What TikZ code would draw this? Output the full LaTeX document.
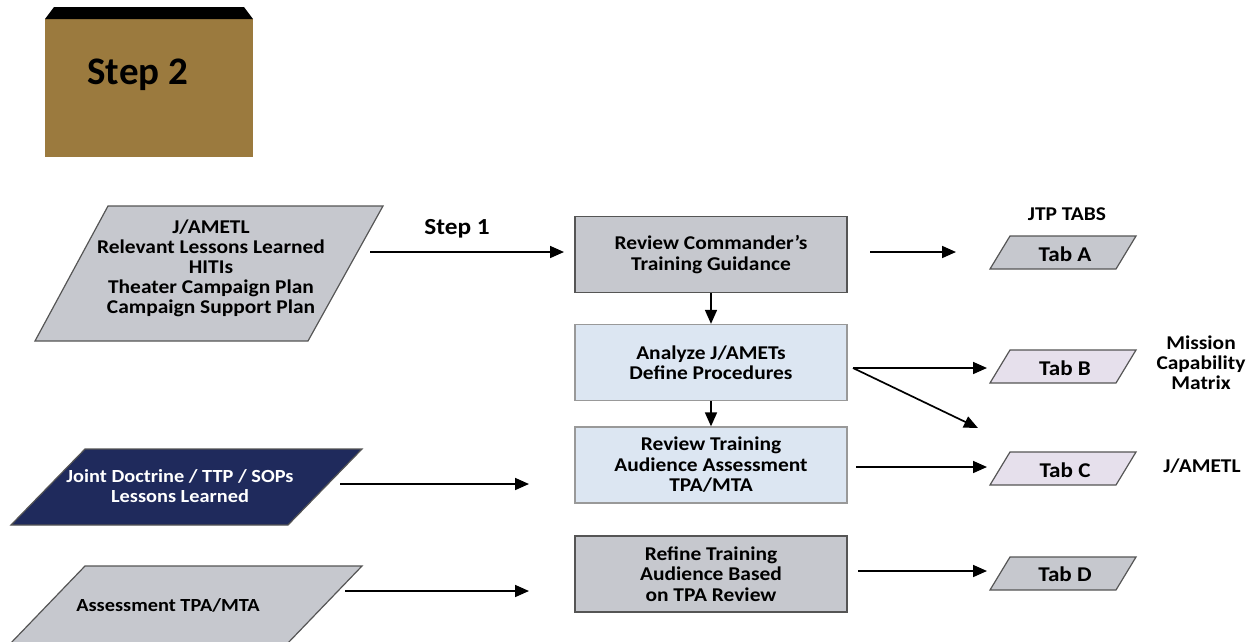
\documentclass[tikz,border=0pt]{standalone}
\usepackage{fontspec}
\setmainfont{Carlito}
\newfontfamily\labelfont{Carlito}[FakeStretch=1.1]
\usetikzlibrary{arrows.meta}
\definecolor{stepbrown}{HTML}{9B7A3E}
\definecolor{boxgray}{HTML}{C6C8CE}
\definecolor{boxblue}{HTML}{DCE6F2}
\definecolor{tablav}{HTML}{E6E0EC}
\definecolor{navy}{HTML}{1F2A5C}
\definecolor{edge}{HTML}{555555}
\tikzset{
  txt/.style={font=\labelfont\bfseries\fontsize{19.5}{20}\selectfont, align=center, inner sep=0pt},
  smalltxt/.style={font=\labelfont\bfseries\fontsize{18.5}{20}\selectfont, align=center, inner sep=0pt},
  tabtxt/.style={font=\labelfont\bfseries\fontsize{21}{22}\selectfont, inner sep=0pt},
  procbox/.style={draw=edge, line width=1.3pt, minimum width=272pt, minimum height=76pt, inner sep=0pt,
    align=center, font=\labelfont\bfseries\fontsize{19.5}{20.5}\selectfont},
  graybox/.style={procbox, fill=boxgray},
  bluebox/.style={procbox, fill=boxblue, draw=gray!80},
  para/.style={draw=edge, line width=1.2pt},
  flow/.style={line width=1.7pt, -{Triangle[length=14pt,width=12pt]}},
}
\begin{document}
\begin{tikzpicture}[x=1pt, y=-1pt]
\useasboundingbox (0,0) rectangle (1259,641);

% Step banner
\fill[stepbrown] (45,19) rectangle (253,157);
\fill[black] (54,7) -- (244,7) -- (253,19) -- (45,19) -- cycle;
\node[font=\bfseries\fontsize{39}{44}\selectfont, anchor=base west] (step2) at (84,84) {Step 2};

% Inputs on the left
\draw[para, fill=boxgray] (108,206) -- (383,206) -- (308,341) -- (35,341) -- cycle;
\node[txt] (inputs) at (211,268) {J/AMETL\\Relevant Lessons Learned\\HITIs\\Theater Campaign Plan\\Campaign Support Plan};

\draw[para, fill=navy] (85,449) -- (362,449) -- (288,525) -- (11,525) -- cycle;
\node[smalltxt, text=white] (doctrine) at (180,486) {Joint Doctrine / TTP / SOPs\\Lessons Learned};

\draw[para, fill=boxgray] (85,566) -- (362,566) -- (286,645) -- (9,645) -- cycle;
\node[smalltxt] (assess) at (168,605) {Assessment TPA/MTA};

\node[font=\labelfont\bfseries\fontsize{23}{24}\selectfont] (step1) at (457,229) {Step 1};

% Process boxes
\node[graybox] (guid) at (711,254.5) {Review Commander’s\\Training Guidance};
\node[bluebox] (amet) at (711,362.5) {Analyze J/AMETs\\Define Procedures};
\node[bluebox] (tpa)  at (711,465) {Review Training\\Audience Assessment\\TPA/MTA};
\node[graybox] (refine) at (711,574) {Refine Training\\Audience Based\\on TPA Review};

% JTP tabs
\node[txt] (jtp) at (1067,214) {JTP TABS};
\draw[para, fill=boxgray] (1010,236) -- (1136,236) -- (1116,269) -- (990,269) -- cycle;
\node[tabtxt] (taba) at (1065,254) {Tab A};
\draw[para, fill=tablav] (1010,350) -- (1136,350) -- (1116,383) -- (990,383) -- cycle;
\node[tabtxt] (tabb) at (1065,368) {Tab B};
\draw[para, fill=tablav] (1010,452) -- (1136,452) -- (1116,485) -- (990,485) -- cycle;
\node[tabtxt] (tabc) at (1065,470) {Tab C};
\draw[para, fill=boxgray] (1010,557) -- (1136,557) -- (1116,590) -- (990,590) -- cycle;
\node[tabtxt] (tabd) at (1065,574) {Tab D};

\node[txt] (mcm) at (1201,363) {Mission\\Capability\\Matrix};
\node[txt] (jametl) at (1202,466) {J/AMETL};

% Connector ends
\coordinate (inR) at (370,252);
\coordinate (guidIn) at (564,252);
\coordinate (guidR) at (870,252);
\coordinate (taIn) at (956,252);
\coordinate (ametR) at (853,368);
\coordinate (tbIn) at (987,368);
\coordinate (diagEnd) at (978,428);
\coordinate (tpaR) at (856,467);
\coordinate (tcIn) at (987,467);
\coordinate (refR) at (858,571);
\coordinate (tdIn) at (987,571);
\coordinate (docR) at (340,484);
\coordinate (docEnd) at (529,484);
\coordinate (asR) at (345,591);
\coordinate (asEnd) at (529,591);

% Connectors
\draw[flow] (inR) -- (guidIn);
\draw[flow] (guid) -- (amet);
\draw[flow] (amet) -- (tpa);
\draw[flow] (guidR) -- (taIn);
\draw[flow] (ametR) -- (tbIn);
\draw[flow] (ametR) -- (diagEnd);
\draw[flow] (tpaR) -- (tcIn);
\draw[flow] (refR) -- (tdIn);
\draw[flow] (docR) -- (docEnd);
\draw[flow] (asR) -- (asEnd);
\end{tikzpicture}
\end{document}
